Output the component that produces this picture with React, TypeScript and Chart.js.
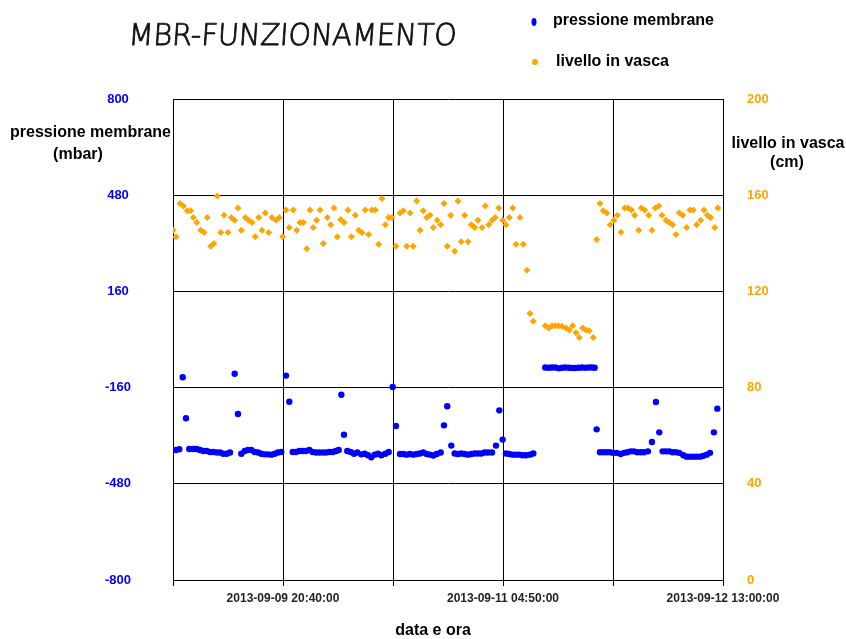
import React, { useEffect, useRef } from 'react';
import { Chart, registerables } from 'chart.js';

Chart.register(...registerables);

const W = 846;
const H = 639;

// x axis in hours since 2013-09-09 04:35:00
const xMax = 80 + 25 / 60;
const xTickHours = [0, 16 + 5 / 60, 32 + 10 / 60, 48.25, 64 + 20 / 60, xMax];
const xTickLabels = ['', '2013-09-09 20:40:00', '', '2013-09-11 04:50:00', '', '2013-09-12 13:00:00'];
const pressureTicks = [-800, -480, -160, 160, 480, 800];
const levelTicks = [0, 40, 80, 120, 160, 200];

const chartTitle = 'MBR-FUNZIONAMENTO';
const pressureLabel = 'pressione membrane';
const levelLabel = 'livello in vasca';
const xTitle = 'data e ora';

// [hours, mbar]
const pressurePoints: number[][] = [
  [0.04, -367], [0.44, -367.6], [0.92, -365], [1.42, -125.8], [1.9, -262], [2.38, -364], [2.97, -364], [3.47, -364],
  [3.95, -367.6], [4.43, -371], [4.93, -371], [5.41, -374], [5.89, -374], [6.39, -376], [6.87, -376], [7.35, -380],
  [7.85, -380], [8.33, -376], [9.02, -113.8], [9.5, -248], [9.99, -380], [10.48, -371], [10.96, -367.6], [11.45, -367.6],
  [11.95, -374], [12.43, -376], [12.91, -380], [13.41, -382], [13.89, -382], [14.37, -383], [14.87, -380], [15.35, -376],
  [15.83, -374], [16.52, -120], [17.0, -207], [17.5, -374], [17.98, -374], [18.47, -371], [18.96, -371], [19.44, -371],
  [19.93, -367.6], [20.42, -374], [20.91, -376], [21.39, -376], [21.89, -376], [22.37, -376], [22.85, -374], [23.35, -374],
  [23.83, -371], [24.23, -367.6], [24.61, -183.6], [25.0, -316.7], [25.48, -371], [25.98, -374], [26.46, -380], [26.95, -376],
  [27.53, -382], [28.03, -380], [28.51, -385], [28.99, -392], [29.49, -383], [29.97, -380], [30.45, -385], [31.04, -380],
  [31.54, -374], [32.12, -158], [32.6, -287.8], [33.19, -381], [33.67, -381], [34.17, -383], [34.65, -381], [35.13, -383],
  [35.63, -381], [36.11, -379], [36.59, -376], [37.09, -381], [37.57, -383], [38.06, -386], [38.55, -381], [39.14, -376],
  [39.62, -285.5], [40.1, -222], [40.69, -353], [41.18, -379], [41.67, -381], [42.15, -379], [42.65, -381], [43.13, -383],
  [43.61, -381], [44.11, -379], [44.59, -379], [45.07, -379], [45.57, -376], [46.05, -376], [46.64, -376], [47.22, -353],
  [47.71, -235.6], [48.2, -333], [48.68, -379], [49.17, -381], [49.66, -383], [50.15, -383], [50.63, -383], [51.13, -385],
  [51.61, -385], [52.19, -383], [52.68, -379], [54.43, -93], [54.93, -94], [55.41, -93], [55.89, -93], [56.39, -96],
  [56.87, -94], [57.36, -93], [57.85, -94], [58.33, -95], [58.81, -95], [59.31, -94], [59.79, -93], [60.27, -94],
  [60.77, -93], [61.25, -93], [61.65, -94], [61.94, -298.8], [62.43, -375], [62.91, -375], [63.41, -375], [63.89, -375],
  [64.37, -377], [64.87, -377], [65.45, -381], [65.94, -377], [66.42, -375], [66.92, -372], [67.4, -372], [67.88, -375],
  [68.38, -375], [68.86, -375], [69.44, -372], [70.03, -341], [70.61, -208], [71.1, -308.8], [71.59, -372], [72.08, -372],
  [72.56, -372], [73.06, -375], [73.54, -375], [74.02, -377], [74.61, -385], [75.1, -389.7], [75.58, -389.7], [76.07, -389.7],
  [76.56, -389.7], [77.05, -389.7], [77.53, -387], [78.03, -383], [78.51, -377], [79.09, -308.8], [79.58, -230],
];

// [hours, cm]
const levelPoints: number[][] = [
  [0.04, 145.4], [0.44, 142.7], [1.02, 156.5], [1.51, 155.5], [2.09, 153.5], [2.59, 153.5], [2.97, 150.7], [3.47, 148.6],
  [4.05, 145.4], [4.53, 144.5], [5.01, 150.7], [5.51, 138.8], [5.99, 139.9], [6.48, 159.7], [6.97, 144.5], [7.46, 151.7],
  [8.04, 144.5], [8.52, 150.7], [9.02, 149.6], [9.5, 154.7], [9.99, 145.4], [10.57, 150.7], [11.07, 149.6], [11.55, 148.6],
  [12.03, 142.7], [12.53, 150.7], [13.01, 145.4], [13.49, 152.6], [13.99, 144.5], [14.47, 150.7], [15.06, 149.6], [15.54, 150.7],
  [16.04, 142.7], [16.52, 153.8], [17.0, 146.6], [17.59, 153.8], [18.09, 145.4], [18.57, 148.6], [19.05, 148.6], [19.55, 137.7],
  [20.03, 153.8], [20.51, 146.6], [21.01, 149.6], [21.49, 153.8], [21.97, 139.9], [22.56, 150.7], [23.06, 147.7], [23.54, 154.7],
  [24.02, 142.7], [24.52, 149.9], [25.0, 148.6], [25.58, 153.8], [26.07, 142.7], [26.65, 151.7], [27.15, 145.4], [27.63, 144.5],
  [28.11, 153.8], [28.61, 143.7], [29.09, 153.8], [29.58, 153.8], [30.07, 139.6], [30.56, 158.6], [31.04, 147.7], [31.54, 150.7],
  [32.02, 150.7], [32.6, 138.8], [33.19, 152.6], [33.67, 153.5], [34.17, 138.8], [34.65, 152.6], [35.13, 138.8], [35.63, 157.6],
  [36.11, 145.4], [36.59, 153.5], [37.09, 150.7], [37.57, 151.7], [38.06, 146.6], [38.64, 149.6], [39.14, 147.7], [39.62, 156.5],
  [40.1, 138.8], [40.6, 151.7], [41.18, 136.7], [41.67, 157.6], [42.15, 140.6], [42.65, 151.7], [43.13, 140.6], [43.61, 147.7],
  [44.11, 146.6], [44.59, 149.6], [45.18, 146.6], [45.66, 155.5], [46.16, 147.7], [46.64, 149.6], [47.12, 150.7], [47.62, 154.7],
  [48.2, 149.6], [48.68, 147.7], [49.17, 150.7], [49.66, 154.7], [50.15, 139.6], [50.73, 150.7], [51.21, 139.6], [51.75, 128.8],
  [52.19, 110.8], [52.68, 107.6], [54.43, 105.7], [54.93, 104.8], [55.41, 105.7], [55.89, 105.7], [56.39, 105.7], [56.87, 105.5],
  [57.46, 104.8], [57.94, 103.9], [58.44, 105.7], [58.92, 102.8], [59.4, 100.8], [59.9, 104.8], [60.38, 103.9], [60.86, 103.6],
  [61.45, 100.8], [61.94, 141.6], [62.43, 156.5], [62.91, 153.5], [63.41, 152.6], [63.93, 147.7], [64.47, 149.6], [64.96, 151.7],
  [65.5, 144.6], [66.04, 154.7], [66.52, 154.7], [67.01, 153.8], [67.5, 151.7], [68.09, 145.4], [68.47, 154.7], [68.96, 153.8],
  [69.55, 151.7], [70.03, 145.4], [70.51, 154.7], [71.01, 155.5], [71.49, 151.7], [72.08, 149.6], [72.56, 148.6], [73.06, 147.7],
  [73.54, 143.7], [74.02, 152.6], [74.52, 151.7], [75.1, 146.6], [75.58, 153.8], [76.07, 153.8], [76.56, 147.7], [77.15, 149.6],
  [77.63, 153.8], [78.11, 151.7], [78.61, 150.7], [79.2, 146.6], [79.68, 154.7],
];

const BLUE = '#0000ff';
const ORANGE = '#ffa500';
const FONT = '"Liberation Sans", Arial, sans-serif';

const textPlugin = {
  id: 'extraTexts',
  afterDraw(chart: any) {
    const ctx: CanvasRenderingContext2D = chart.ctx;
    ctx.save();
    // title (thin handwriting-like look)
    ctx.fillStyle = '#111';
    ctx.strokeStyle = '#111';
    ctx.lineWidth = 0.9;
    ctx.lineJoin = 'round';
    ctx.textBaseline = 'alphabetic';
    ctx.textAlign = 'left';
    ctx.font = `200 30px "DejaVu Sans", sans-serif`;
    const tw = ctx.measureText(chartTitle).width;
    const targetW = 328;
    ctx.save();
    ctx.translate(128, 45);
    ctx.transform(targetW / tw, 0, -0.07, 1, 0, 0);
    ctx.fillText(chartTitle, 0, 0);
    ctx.strokeText(chartTitle, 0, 0);
    ctx.restore();

    ctx.font = `bold 16px ${FONT}`;
    ctx.textBaseline = 'middle';
    // legend
    ctx.fillStyle = BLUE;
    ctx.beginPath();
    ctx.ellipse(534, 22, 2.5, 4, 0, 0, Math.PI * 2);
    ctx.fill();
    ctx.fillStyle = ORANGE;
    ctx.beginPath();
    ctx.ellipse(535, 62, 3, 3, 0, 0, Math.PI * 2);
    ctx.fill();
    ctx.fillStyle = '#000';
    ctx.textAlign = 'left';
    ctx.fillText(pressureLabel, 553, 21);
    ctx.fillText(levelLabel, 556, 62);

    // axis titles
    ctx.fillText(pressureLabel, 10, 133);
    ctx.textAlign = 'center';
    ctx.fillText('(mbar)', 78, 155);
    ctx.fillText(levelLabel, 788, 144);
    ctx.fillText('(cm)', 787, 163);
    ctx.fillText(xTitle, 433, 631);
    ctx.restore();
  },
};

export default function App() {
  const ref = useRef<HTMLCanvasElement | null>(null);

  useEffect(() => {
    if (!ref.current) return;
    const chart = new Chart(ref.current, {
      type: 'scatter',
      data: {
        datasets: [
          {
            label: pressureLabel,
            data: pressurePoints.map(([x, y]) => ({ x, y })),
            yAxisID: 'y',
            backgroundColor: BLUE,
            borderColor: BLUE,
            borderWidth: 0,
            pointRadius: 3.2,
            pointStyle: 'circle',
          },
          {
            label: levelLabel,
            data: levelPoints.map(([x, y]) => ({ x, y })),
            yAxisID: 'y1',
            backgroundColor: ORANGE,
            borderColor: ORANGE,
            borderWidth: 0,
            pointRadius: 3.5,
            pointStyle: 'rectRot',
          },
        ],
      },
      options: {
        animation: false,
        responsive: false,
        devicePixelRatio: 1,
        layout: { padding: { top: 99, left: 0, right: 0, bottom: 0 } },
        plugins: {
          legend: { display: false },
          title: { display: false },
          tooltip: { enabled: false },
        },
        scales: {
          x: {
            type: 'linear',
            min: 0,
            max: xMax,
            afterBuildTicks: (s: any) => {
              s.ticks = xTickHours.map((v) => ({ value: v }));
            },
            afterFit: (s: any) => {
              s.height = H - 580;
            },
            ticks: {
              autoSkip: false,
              maxRotation: 0,
              minRotation: 0,
              padding: 5,
              color: '#222',
              font: { family: FONT, size: 12, weight: 'bold' },
              callback: (_v: any, i: number) => xTickLabels[i],
            },
            grid: { color: '#000', lineWidth: 1, tickLength: 6, drawTicks: true },
            border: { display: true, color: '#000' },
          },
          y: {
            position: 'left',
            min: -800,
            max: 800,
            afterBuildTicks: (s: any) => {
              s.ticks = pressureTicks.map((v) => ({ value: v }));
            },
            afterFit: (s: any) => {
              s.width = 173;
            },
            ticks: {
              color: BLUE,
              padding: 42,
              crossAlign: 'center',
              font: { family: FONT, size: 13, weight: 'bold' },
            },
            grid: { color: '#000', lineWidth: 1, drawTicks: false },
            border: { display: true, color: '#000' },
          },
          y1: {
            position: 'right',
            min: 0,
            max: 200,
            afterBuildTicks: (s: any) => {
              s.ticks = levelTicks.map((v) => ({ value: v }));
            },
            afterFit: (s: any) => {
              s.width = W - 723;
            },
            ticks: {
              color: ORANGE,
              padding: 24,
              font: { family: FONT, size: 13, weight: 'bold' },
            },
            grid: { display: false, drawTicks: false },
            border: { display: true, color: '#000' },
          },
        },
      } as any,
      plugins: [textPlugin],
    });
    return () => chart.destroy();
  }, []);

  return (
    <div style={{ position: 'absolute', left: 0, top: 0, width: W, height: H, background: '#fff' }}>
      <canvas ref={ref} width={W} height={H} style={{ display: 'block', width: W, height: H }} />
    </div>
  );
}
